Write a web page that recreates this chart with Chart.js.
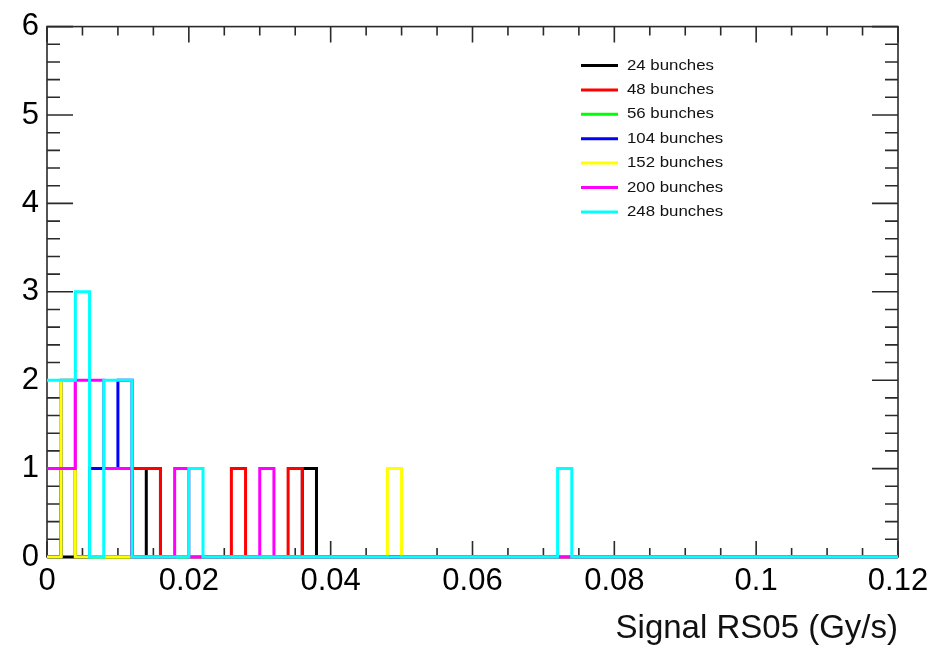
<!DOCTYPE html>
<html lang="en">
<head>
<meta charset="UTF-8">
<title>Signal RS05</title>
<script src="https://cdn.jsdelivr.net/npm/chart.js"></script>
<style>
  body { margin: 0; background: #fff; }
  canvas { display: block; }
</style>
</head>
<body>
<canvas id="rs05Chart" width="951" height="651"></canvas>
<script>
// 60 bins of 0.002 Gy/s between 0 and 0.12
const binWidth = 0.002;
const nBins = 60;

const seriesLabels = ['24 bunches', '48 bunches', '56 bunches', '104 bunches', '152 bunches', '200 bunches', '248 bunches'];
const seriesColors = ['#000000', '#ff0000', '#00ff00', '#0000ff', '#ffff00', '#ff00ff', '#00ffff'];

// bin contents starting at the first bin, bins past the end of a list are empty
const counts24  = [0,0,0,0,0,0,0,1, 0,0,0,0,0,0,0,0,0,0, 1];
const counts48  = [0,1,0,0,0,0,1,1,0,0,0,0,0,1,0,0,0,1];
const counts56  = [0,1];
const counts104 = [0,2,0,1,1,2];
const counts152 = [0,2, 0,0,0,0,0,0,0,0,0,0, 0,0,0,0,0,0,0,0,0,0, 0,0, 1];
const counts200 = [1,1,2,2,1,1,0,0,0,1,0,0,0,0,0,1];
const counts248 = [2,2,3,0,2,2,0,0,0,0,1, 0,0,0,0,0,0,0,0,0,0, 0,0,0,0,0,0,0,0,0,0, 0,0,0,0,0, 1];

const allCounts = [counts24, counts48, counts56, counts104, counts152, counts200, counts248];

// axis ticks
const yTicks = [0, 1, 2, 3, 4, 5, 6];
const xTickLabels = ['0', '0.02', '0.04', '0.06', '0.08', '0.1', '0.12'];
const xMinorStep = 0.005, xMajorEvery = 4;
const yMinorStep = 0.2, yMajorEvery = 5;

const FONT = '"Liberation Sans", Arial, Helvetica, sans-serif';

// turn bin contents into step points (low edge of each bin + closing edge)
function histPoints(counts) {
  const pts = [];
  for (let i = 0; i < nBins; i++) {
    pts.push({ x: i * binWidth, y: counts[i] || 0 });
  }
  pts.push({ x: nBins * binWidth, y: counts[nBins - 1] || 0 });
  return pts;
}

const datasets = allCounts.map((c, i) => ({
  label: seriesLabels[i],
  data: histPoints(c),
  borderColor: seriesColors[i],
  backgroundColor: seriesColors[i],
  borderWidth: 3,
  stepped: true,
  pointRadius: 0,
  fill: false,
  clip: false,
  order: allCounts.length - i   // later series drawn on top
}));

// frame with inward ticks on all four sides
const frameTicks = {
  id: 'frameTicks',
  beforeDatasetsDraw(chart) {
    const { ctx, chartArea: a, scales: { x, y } } = chart;
    ctx.save();
    ctx.strokeStyle = '#2a2a2a';
    ctx.lineWidth = 1.6;
    ctx.strokeRect(a.left, a.top, a.right - a.left, a.bottom - a.top);
    ctx.beginPath();
    const nx = Math.round((x.max - x.min) / xMinorStep);
    for (let k = 0; k <= nx; k++) {
      const px = x.getPixelForValue(x.min + k * xMinorStep);
      const len = k % xMajorEvery === 0 ? 16 : 9;
      ctx.moveTo(px, a.bottom); ctx.lineTo(px, a.bottom - len);
      ctx.moveTo(px, a.top); ctx.lineTo(px, a.top + len);
    }
    const ny = Math.round((y.max - y.min) / yMinorStep);
    for (let k = 0; k <= ny; k++) {
      const py = y.getPixelForValue(y.min + k * yMinorStep);
      const len = k % yMajorEvery === 0 ? 26 : 13;
      ctx.moveTo(a.left, py); ctx.lineTo(a.left + len, py);
      ctx.moveTo(a.right, py); ctx.lineTo(a.right - len, py);
    }
    ctx.stroke();
    ctx.restore();
  }
};

// legend box in the upper right of the pad
const padLegend = {
  id: 'padLegend',
  afterDraw(chart) {
    const ctx = chart.ctx;
    ctx.save();
    ctx.font = '15px ' + FONT;
    ctx.textBaseline = 'middle';
    ctx.lineWidth = 3;
    chart.data.datasets.forEach((ds, i) => {
      const ly = 65.5 + i * 24.4;
      ctx.strokeStyle = ds.borderColor;
      ctx.beginPath();
      ctx.moveTo(581, ly);
      ctx.lineTo(618, ly);
      ctx.stroke();
      ctx.fillStyle = '#111';
      ctx.save();
      ctx.translate(627, ly);
      ctx.scale(1.12, 1);
      ctx.fillText(ds.label, 0, 0);
      ctx.restore();
    });
    ctx.restore();
  }
};

new Chart(document.getElementById('rs05Chart'), {
  type: 'line',
  data: { datasets },
  options: {
    responsive: false,
    animation: false,
    events: [],
    layout: { padding: { top: 20, right: 53, left: 0, bottom: 0 } },
    plugins: { legend: { display: false }, tooltip: { enabled: false } },
    scales: {
      x: {
        type: 'linear',
        min: 0,
        max: nBins * binWidth,
        grid: { display: false, drawTicks: false },
        border: { display: false },
        afterFit(scale) { scale.height = 94; },
        afterBuildTicks(scale) {
          scale.ticks = xTickLabels.map(v => ({ value: parseFloat(v) }));
        },
        ticks: {
          padding: 6,
          color: '#000',
          font: { family: FONT, size: 31 },
          maxRotation: 0,
          autoSkip: false,
          callback: (v, i) => xTickLabels[i]
        },
        title: {
          display: true,
          text: 'Signal RS05 (Gy/s)',
          align: 'end',
          color: '#111',
          font: { family: FONT, size: 33 },
          padding: { top: 0, bottom: 2 }
        }
      },
      y: {
        min: 0,
        max: 6,
        grid: { display: false, drawTicks: false },
        border: { display: false },
        afterFit(scale) { scale.width = 47; },
        afterBuildTicks(scale) {
          scale.ticks = yTicks.map(v => ({ value: v }));
        },
        ticks: {
          padding: 8,
          color: '#000',
          font: { family: FONT, size: 31 }
        }
      }
    }
  },
  plugins: [frameTicks, padLegend]
});
</script>
</body>
</html>
